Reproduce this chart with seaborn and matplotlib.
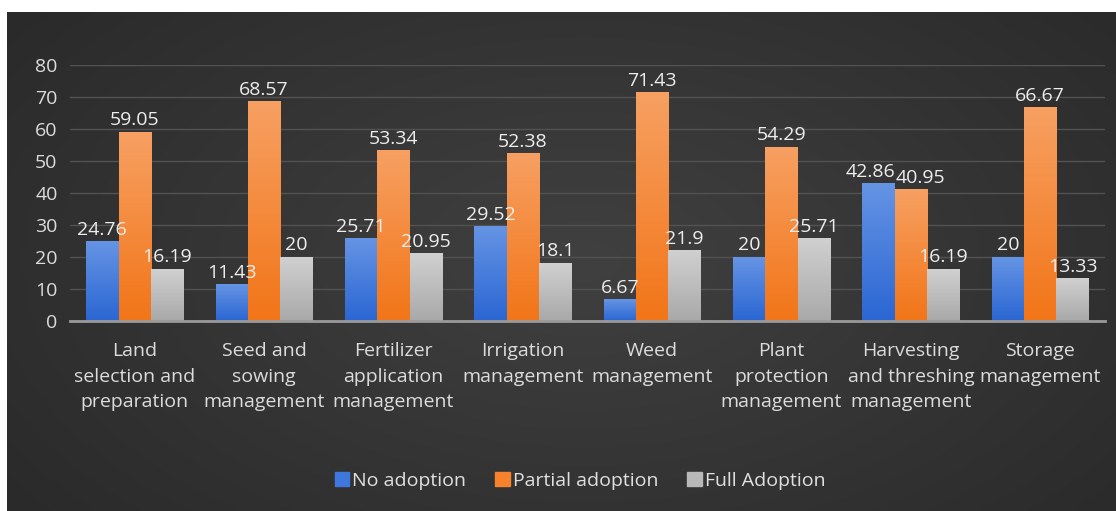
import numpy as np
import pandas as pd
import matplotlib
matplotlib.use("Agg")
import matplotlib.pyplot as plt
import seaborn as sns
from matplotlib.colors import LinearSegmentedColormap

categories = [
    "Land\nselection and\npreparation",
    "Seed and\nsowing\nmanagement",
    "Fertilizer\napplication\nmanagement",
    "Irrigation\nmanagement",
    "Weed\nmanagement",
    "Plant\nprotection\nmanagement",
    "Harvesting\nand threshing\nmanagement",
    "Storage\nmanagement",
]
series = ["No adoption", "Partial adoption", "Full Adoption"]
no_adoption = [24.76, 11.43, 25.71, 29.52, 6.67, 20, 42.86, 20]
partial_adoption = [59.05, 68.57, 53.34, 52.38, 71.43, 54.29, 40.95, 66.67]
full_adoption = [16.19, 20, 20.95, 18.1, 21.9, 25.71, 16.19, 13.33]
yticks = [0, 10, 20, 30, 40, 50, 60, 70, 80]

colors = {"No adoption": "#3f78dc", "Partial adoption": "#f6822e", "Full Adoption": "#b8b8b8"}
tops = {"No adoption": "#6594e4", "Partial adoption": "#f7a062", "Full Adoption": "#d0d0d0"}
bots = {"No adoption": "#2b66d3", "Partial adoption": "#f27518", "Full Adoption": "#a9a9a9"}

rows = []
for s, vals in zip(series, [no_adoption, partial_adoption, full_adoption]):
    for c, v in zip(categories, vals):
        rows.append({"category": c, "series": s, "value": v})
df = pd.DataFrame(rows)

sns.set_theme(style="dark")
plt.rcParams["font.family"] = ["Open Sans", "DejaVu Sans"]

fig = plt.figure(figsize=(11.16, 5.11), dpi=100)
fig.patch.set_facecolor("white")

# background panel with soft radial gradient
bg = fig.add_axes([7 / 1116, 0, 1 - 7 / 1116, 1 - 12 / 511], zorder=-10)
yy, xx = np.mgrid[0:1:200j, 0:1:400j]
r = np.sqrt(((xx - 0.52) / 0.8) ** 2 + ((yy - 0.5) / 1.0) ** 2)
img = np.clip(1 - r, 0, 1)
bgcmap = LinearSegmentedColormap.from_list("bg", ["#2a2a2a", "#404040"])
bg.imshow(img, cmap=bgcmap, aspect="auto", extent=(0, 1, 0, 1), origin="lower")
bg.set_axis_off()

ax = fig.add_axes([70 / 1116, 1 - 321 / 511, 1035 / 1116, 256 / 511])
ax.patch.set_alpha(0)
sns.barplot(data=df, x="category", y="value", hue="series", order=categories,
            hue_order=series, palette=colors, width=0.75, saturation=1,
            linewidth=0, edgecolor="none", ax=ax, legend=False, zorder=3)

ax.set_ylim(0, 80)
ax.set_yticks(yticks)
ax.grid(axis="y", color="#525252", linewidth=1, zorder=0)
ax.grid(axis="x", visible=False)
for sp in ["top", "right", "left"]:
    ax.spines[sp].set_visible(False)
ax.spines["bottom"].set_color("#9a9a9a")
ax.spines["bottom"].set_linewidth(2)
ax.spines["bottom"].set_zorder(5)
ax.set_xlabel("")
ax.set_ylabel("")
ax.tick_params(axis="y", colors="#dcdcdc", labelsize=14, length=0, pad=9)
ax.tick_params(axis="x", colors="#dcdcdc", labelsize=14, length=0, pad=15)
for t in ax.get_xticklabels():
    t.set_linespacing(1.55)
    t.set_ha("center")

# gradient fill on bars + labels
nudge = {("No adoption", 6): -6, ("Partial adoption", 6): 7}
for s, cont in zip(series, ax.containers):
    cmap = LinearSegmentedColormap.from_list(s, [bots[s], tops[s]])
    grad = np.linspace(0, 1, 100).reshape(-1, 1)
    for p in cont:
        x0, y0 = p.get_x(), p.get_y()
        w, h = p.get_width(), p.get_height()
        ax.imshow(grad, cmap=cmap, aspect="auto", origin="lower",
                  extent=(x0, x0 + w, y0, y0 + h), zorder=3.5)
    texts = ax.bar_label(cont, labels=[f"{v:g}" for v in cont.datavalues],
                         padding=2, color="#eeeeee", fontsize=14, zorder=6)
    for i, t in enumerate(texts):
        dx = nudge.get((s, i), 0)
        if dx:
            t.xyann = (dx, 2)
ax.set_xlim(-0.5, len(categories) - 0.5)
ax.set_ylim(0, 80)

handles = [plt.Rectangle((0, 0), 1, 1, color=colors[s]) for s in series]
fig.legend(handles, series, loc="center", bbox_to_anchor=(580 / 1116, 1 - 481 / 511),
           ncol=3, frameon=False, labelcolor="#e0e0e0", fontsize=14,
           handlelength=0.75, handleheight=0.75, handletextpad=0.15, columnspacing=1.5)

fig.savefig("out.png", dpi=100, facecolor=fig.get_facecolor())
